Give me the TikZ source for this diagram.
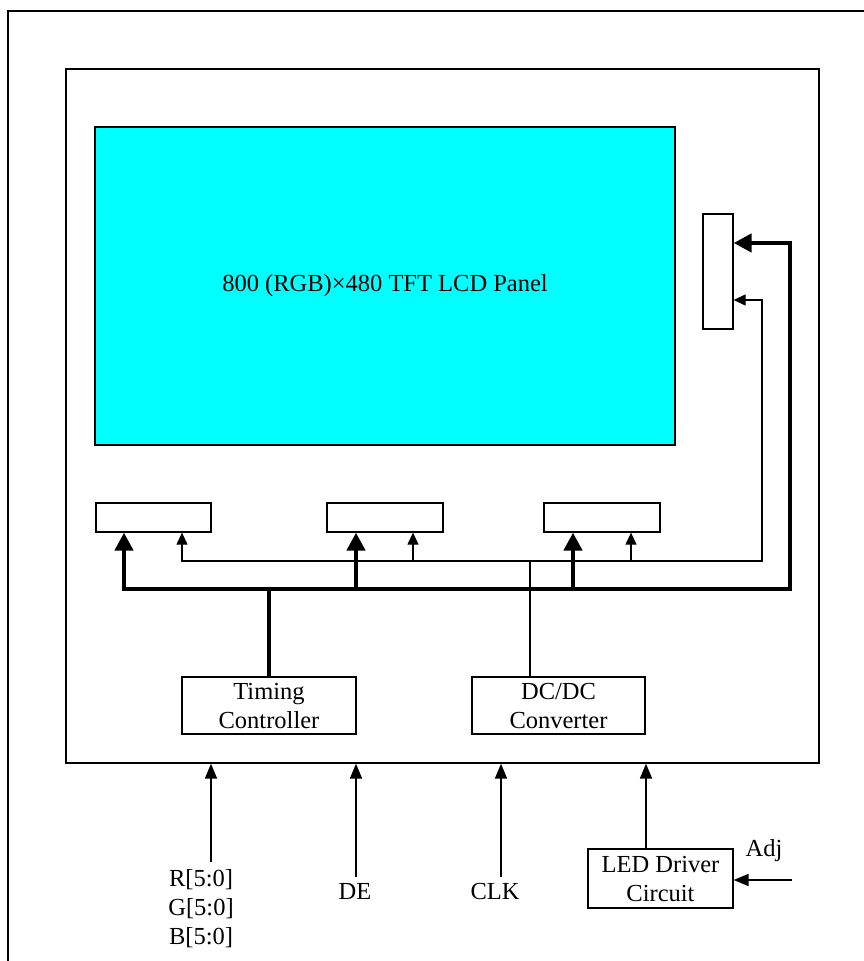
\documentclass[tikz,border=0pt]{standalone}
\usepackage{fontspec}
\setmainfont{Liberation Serif}
\usetikzlibrary{arrows.meta}
\definecolor{panelcyan}{RGB}{0,255,255}
\begin{document}
\begin{tikzpicture}[x=1pt,y=-1pt,
  txt/.style={font=\fontsize{24.5}{29}\selectfont, align=center, inner sep=0pt},
  box/.style={draw, line width=1.3pt, inner sep=0pt, align=center, font=\fontsize{24.5}{29}\selectfont},
  thinline/.style={line width=1.3pt},
  thickline/.style={line width=4.5pt},
  bigarrow/.style={-{Triangle[length=18pt,width=18pt]}, line width=4.5pt},
  bigarrows/.style={{Triangle[length=18pt,width=18pt]}-{Triangle[length=18pt,width=18pt]}, line width=4.5pt},
  smallarrow/.style={-{Triangle[length=12pt,width=11pt]}, line width=1.3pt},
  smallarrows/.style={{Triangle[length=12pt,width=11pt]}-{Triangle[length=12pt,width=11pt]}, line width=1.3pt},
  midarrow/.style={-{Triangle[length=15pt,width=12pt]}, line width=1.8pt}]
\useasboundingbox (0,0) rectangle (864,961);
\clip (0,0) rectangle (864,961);
% outer frame
\draw[line width=1.6pt] (8,1000) -- (8,11) -- (900,11);
% module box
\node[box, minimum width=753pt, minimum height=694pt] (module) at (442.5,416) {};
% panel
\node[box, fill=panelcyan, minimum width=580pt, minimum height=318pt] (panel) at (385,286) {800 (RGB)\texttimes480 TFT LCD Panel};
% source driver (right)
\node[box, minimum width=30pt, minimum height=115pt] (src) at (718,271.5) {};
% gate drivers
\node[box, minimum width=115pt, minimum height=29pt] (g1) at (153.5,517.5) {};
\node[box, minimum width=116pt, minimum height=29pt] (g2) at (385,517.5) {};
\node[box, minimum width=116pt, minimum height=29pt] (g3) at (602,517.5) {};
% controllers
\node[box, minimum width=174pt, minimum height=57pt] (tcon) at (269,705.5) {Timing\\Controller};
\node[box, minimum width=173pt, minimum height=57pt] (dcdc) at (558.5,705.5) {DC/DC\\Converter};
% LED driver
\node[box, minimum width=145pt, minimum height=59pt] (led) at (660.5,878.5) {LED Driver\\Circuit};

% helper coordinates
\coordinate (yT) at (0,243);
\coordinate (yt) at (0,300);
\coordinate (b1) at (124,589);
\coordinate (b2) at (356,589);
\coordinate (b3) at (573,589);
\coordinate (bR) at (790,589);
\coordinate (s1) at (182,561);
\coordinate (s2) at (413,561);
\coordinate (s3) at (631,561);
\coordinate (sD) at (530,561);
\coordinate (sR) at (762,561);

% thick data bus
\draw[bigarrows, line join=miter] (b1 |- g1.south) -- (b1) -- (bR) -- (bR |- yT) -- (src.east |- yT);
\draw[bigarrow] (b2) -- (b2 |- g2.south);
\draw[bigarrow] (b3) -- (b3 |- g3.south);
\draw[thickline] (tcon.north) -- (tcon.north |- b1);

% thin power bus
\draw[smallarrows, line join=miter] (s1 |- g1.south) -- (s1) -- (sR) -- (sR |- yt) -- (src.east |- yt);
\draw[smallarrow] (s2) -- (s2 |- g2.south);
\draw[smallarrow] (s3) -- (s3 |- g3.south);
\draw[thinline] (sD |- dcdc.north) -- (sD);

% inputs
\coordinate (inR) at (211,862);
\coordinate (inD) at (356,877);
\coordinate (inC) at (501,877);
\coordinate (ledX) at (646,0);
\draw[midarrow] (inR) -- (inR |- module.south);
\draw[midarrow] (inD) -- (inD |- module.south);
\draw[midarrow] (inC) -- (inC |- module.south);
\draw[midarrow] (ledX |- led.north) -- (ledX |- module.south);
\coordinate (adjS) at (792,880);
\draw[midarrow] (adjS) -- (adjS -| led.east);

% labels
\node[txt] (rgb) at (201,909) {R[5:0]\\G[5:0]\\B[5:0]};
\node[txt] (de) at (355,891) {DE};
\node[txt] (clk) at (495,891) {CLK};
\node[txt] (adj) at (764,851) {Adj};
\end{tikzpicture}
\end{document}
